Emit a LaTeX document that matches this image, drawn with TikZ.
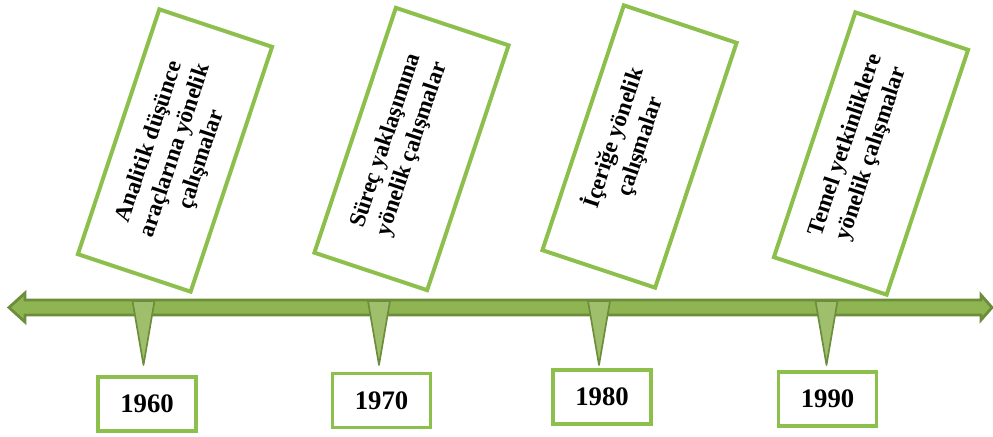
\documentclass[tikz,border=0pt]{standalone}
\usepackage{fontspec}
\setmainfont{Liberation Serif}
\usetikzlibrary{positioning}
\definecolor{framegreen}{HTML}{8CBF4C}
\definecolor{barfill}{HTML}{8FB452}
\definecolor{bardark}{HTML}{6C8E3A}
\newcommand{\topictext}[1]{\parbox[c][2cm][t]{6.1cm}{\centering\strut #1}}

\begin{document}
\begin{tikzpicture}[x=0.025cm, y=0.025cm,
    topic/.style={draw=framegreen, line width=2.8pt, fill=white, rotate=71.6,
      minimum width=6.45cm, minimum height=2.97cm, inner sep=0pt,
      font=\fontsize{16.5}{19.5}\selectfont\bfseries},
    year/.style={draw=framegreen, line width=2.8pt, minimum width=2.45cm,
      minimum height=1.35cm, inner sep=0pt, font=\fontsize{19}{22}\selectfont\bfseries},
    bar/.style={fill=barfill, draw=bardark, line width=2pt},
    tick/.style={fill=barfill!85!white, draw=bardark, line width=1.2pt, line join=round},
  ]
  \useasboundingbox (0,0) rectangle (993,436);

  % Topic boxes
  \node[topic] (t1) at (175,285.5)
    {\topictext{Analitik düşünce\\araçlarına yönelik\\çalışmalar}};
  \node[topic] (t2) at (411.5,287)
    {\topictext{Süreç yaklaşımına\\yönelik çalışmalar}};
  \node[topic] (t3) at (639.5,289.5)
    {\topictext{İçeriğe yönelik\\çalışmalar}};
  \node[topic] (t4) at (871,282.5)
    {\topictext{Temel yetkinliklere\\yönelik çalışmalar}};

  % Time line
  \draw[bar] (9,128.5) coordinate (lt) -- (25,143) -- (25,136) -- (981,136)
    -- (981,141) -- (992,128.5) coordinate (rt) -- (981,116) -- (981,121)
    -- (25,121) -- (25,114) -- cycle;

  % Ticks and years
  \coordinate (tipline) at (0,71);
  \foreach \kx/\bx/\by/\yr [count=\i] in
      {143.5/147/32/1960, 379/381.5/35.5/1970, 599/602/39/1980, 826.5/827.5/37/1990}{
    \coordinate (k\i) at (\kx,135);
    \draw[tick] ([xshift=-0.275cm]k\i) -- ([xshift=0.275cm]k\i)
      -- (k\i |- tipline) -- cycle;
    \node[year] (y\i) at (\bx,\by) {\yr};
  }
\end{tikzpicture}
\end{document}
